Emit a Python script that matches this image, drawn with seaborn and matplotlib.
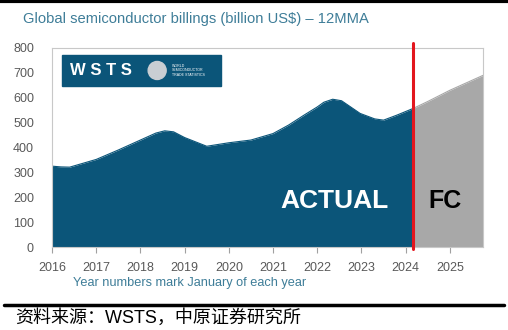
import matplotlib
matplotlib.use("Agg")
import matplotlib.pyplot as plt
import seaborn as sns
import pandas as pd
from matplotlib.patches import Rectangle, Ellipse

# ---- data ----
actual_years = [2016.0, 2016.2, 2016.4, 2017.0, 2017.5, 2018.0, 2018.35, 2018.55, 2018.75,
                2019.0, 2019.5, 2020.0, 2020.5, 2021.0, 2021.35, 2021.7, 2022.0, 2022.15,
                2022.35, 2022.55, 2022.97, 2023.3, 2023.5, 2023.8, 2024.17]
actual_vals = [325, 322, 321, 352, 390, 430, 458, 467, 463,
               440, 405, 419, 430, 456, 490, 530, 563, 582,
               594, 588, 537, 515, 510, 530, 557]
fc_years = [2024.17, 2024.5, 2025.0, 2025.4, 2025.75]
fc_vals = [557, 585, 630, 662, 690]
x_ticks = list(range(2016, 2026))
y_ticks = list(range(0, 801, 100))
title = "Global semiconductor billings (billion US$) – 12MMA"
xlabel = "Year numbers mark January of each year"
source = "资料来源：WSTS，中原证券研究所"

sns.set_theme(style="white")
plt.rcParams['font.family'] = ['Liberation Sans', 'Noto Sans CJK SC', 'DejaVu Sans']

dark = "#0B5579"
gray = "#A8A8A8"
teal = "#3E7D98"

fig = plt.figure(figsize=(5.08, 3.30), dpi=100)
ax = fig.add_axes([52/508, 1-247/330, 431/508, 199/330])

df_a = pd.DataFrame({"year": actual_years, "val": actual_vals})
df_f = pd.DataFrame({"year": fc_years, "val": fc_vals})
ax.fill_between(df_f["year"], 0, df_f["val"], color=gray, lw=0, zorder=1)
ax.fill_between(df_a["year"], 0, df_a["val"], color=dark, lw=0, zorder=2)
sns.lineplot(data=df_f, x="year", y="val", ax=ax, color=gray, lw=0.8, zorder=1)
sns.lineplot(data=df_a, x="year", y="val", ax=ax, color=dark, lw=0.8, zorder=2)

ax.set_xlim(2016, 2025.75)
ax.set_ylim(0, 800)
ax.set_xticks(x_ticks)
ax.set_xticklabels([str(t) for t in x_ticks])
ax.set_yticks(y_ticks)
ax.tick_params(axis='x', which='both', bottom=True, length=4, width=0.8, color="#A0A0A0",
               labelsize=9, labelcolor="#595959", pad=7)
ax.tick_params(axis='y', left=False, labelsize=9, labelcolor="#595959", pad=7)
for s in ax.spines.values():
    s.set_color("#C8C8C8")
    s.set_linewidth(0.8)
ax.set_xlabel("")
ax.set_ylabel("")

# red divider line
ax.plot([2024.17, 2024.17], [-8, 820], color="#E3161E", lw=2.2, clip_on=False, zorder=5)

# WSTS logo box
ax.add_patch(Rectangle((0.023, 0.809), 0.369, 0.156, transform=ax.transAxes,
                       color=dark, zorder=4))
ax.text(0.042, 0.887, "W S T S", transform=ax.transAxes, color="white", fontsize=12,
        fontweight="bold", va="center", ha="left", zorder=6)
ax.add_patch(Ellipse((0.244, 0.887), 0.0418, 0.0905, transform=ax.transAxes,
                     color="#C9CED3", zorder=6))
ax.text(0.279, 0.887, "WORLD\nSEMICONDUCTOR\nTRADE STATISTICS", transform=ax.transAxes,
        color="white", fontsize=2.6, va="center", ha="left", linespacing=1.1, zorder=6)

# ACTUAL / FC labels
ax.text(2022.38, 185, "ACTUAL", color="white", fontsize=19, fontweight="bold",
        ha="center", va="center", zorder=6)
ax.text(2024.89, 185, "FC", color="black", fontsize=18, fontweight="bold",
        ha="center", va="center", zorder=6)

# title and notes
fig.text(23/508, 1-19/330, title, color=teal, fontsize=10.6, ha="left", va="center")
fig.text(73/508, 1-283/330, xlabel, color=teal, fontsize=9.2, ha="left", va="center")

# black bars
fig.add_artist(plt.Line2D([0, 1], [1-1/330, 1-1/330], color="black", lw=3,
                          transform=fig.transFigure))
fig.add_artist(plt.Line2D([4/508, 504/508], [1-305/330, 1-305/330], color="black", lw=2.5,
                          transform=fig.transFigure))
fig.text(15/508, 1-318/330, source, color="black", fontsize=13, ha="left", va="center",
         family=['Liberation Sans', 'Noto Sans CJK SC', 'DejaVu Sans'])

fig.savefig("out.png", dpi=100)
